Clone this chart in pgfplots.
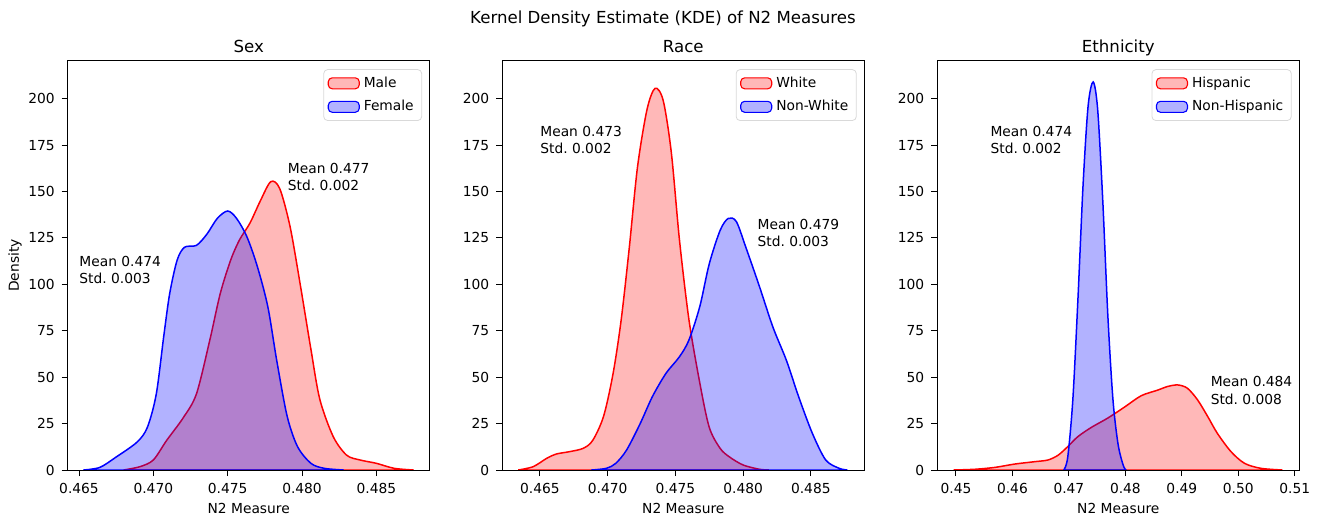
\documentclass[border=0pt]{standalone}
\usepackage{fontspec}
\setmainfont{DejaVu Sans}
\usepackage{pgfplots}
\pgfplotsset{compat=1.18}
\frenchspacing

\definecolor{kred}{RGB}{255,0,0}
\definecolor{kblue}{RGB}{0,0,255}

\newcommand{\tickfont}{\fontsize{6.9}{8.8}\selectfont}
\newcommand{\titlefont}{\fontsize{8.3}{10}\selectfont}

\pgfplotsset{
  every axis title/.style={at={(0.5,1)}, anchor=base, yshift=4.2pt, font=\titlefont},
  kdeax/.style={
    scale only axis,
    width=181pt, height=204.5pt,
    anchor=south west,
    ymin=0, ymax=220.3,
    ytick={0,25,...,200},
    axis line style={line width=0.5pt},
    tick style={black, line width=0.5pt},
    tick align=outside,
    major tick length=3pt,
    tick pos=left,
    /pgf/number format/assume math mode=true,
    tick label style={font=\tickfont},
    xlabel={N2 Measure},
    xlabel style={font=\tickfont, at={(axis description cs:0.5,0)}, anchor=base, yshift=-21.5pt},
    legend style={font=\tickfont, at={(0.979,0.980)}, anchor=north east,
      draw=black!15, rounded corners=2pt, fill=white, fill opacity=0.8,
      text opacity=1, inner xsep=2pt, inner ysep=1.5pt, row sep=1pt},
    legend cell align=left,
    legend image code/.code={\draw[#1, line width=0.55pt] (0pt,-2.75pt) rectangle (15.5pt,2.75pt);},
    axis on top,
  },
  redkde/.style={kred, line width=0.75pt, fill=kred, fill opacity=0.28, smooth},
  bluekde/.style={kblue, line width=0.75pt, fill=kblue, fill opacity=0.3, smooth},
}

\begin{document}
\begin{tikzpicture}
\path[use as bounding box] (0pt,-24pt) rectangle (662.5pt,235pt);

\node[font=\titlefont, anchor=base] at (331.5pt,223.3pt) {Kernel Density Estimate (KDE) of N2 Measures};

% Sex
\begin{axis}[kdeax, at={(33.85pt,0pt)},
  title={Sex},
  ylabel={Density},
  ylabel style={font=\tickfont, at={(axis description cs:0,0.5)}, anchor=center, rotate=0, yshift=26.3pt},
  xmin=0.46424, xmax=0.48859,
  xtick={0.465,0.470,0.475,0.480,0.485},
  xticklabel style={/pgf/number format/.cd, fixed, fixed zerofill, precision=3},
]
\addplot[redkde] coordinates {
  (0.4680,0) (0.4691,1.8) (0.4700,5.4) (0.4709,16) (0.4720,28) (0.4729,41)
  (0.4738,70) (0.4745,95) (0.4752,113) (0.4758,124) (0.4765,133) (0.4772,145)
  (0.4779,155.3) (0.4785,151.6) (0.4792,131) (0.4799,99) (0.4806,65) (0.4812,38)
  (0.4821,18) (0.4830,8) (0.4839,5.4) (0.4850,3.6) (0.4862,0.9) (0.4875,0)
} \closedcycle;
\addlegendentry{Male}
\addplot[bluekde] coordinates {
  (0.4653,0) (0.4664,1.4) (0.4675,7) (0.4689,15) (0.4696,23) (0.4702,41)
  (0.4707,72) (0.4711,95) (0.4716,113) (0.4721,120) (0.4729,121) (0.4736,127)
  (0.4743,135.5) (0.4750,139.5) (0.4756,135.5) (0.4763,125.5) (0.4770,109.5)
  (0.4777,88) (0.4783,59) (0.4790,29) (0.4797,12.6) (0.4806,3.6) (0.4815,0.9)
  (0.4828,0)
} \closedcycle;
\addlegendentry{Female}
\node[anchor=south west, align=left, inner sep=0pt, font=\tickfont] at (axis cs:0.47903,150) {Mean 0.477\\Std. 0.002};
\node[anchor=south west, align=left, inner sep=0pt, font=\tickfont] at (axis cs:0.465,100) {Mean 0.474\\Std. 0.003};
\end{axis}

% Race
\begin{axis}[kdeax, at={(251.15pt,0pt)},
  title={Race},
  xmin=0.46222, xmax=0.48895,
  xtick={0.465,0.470,0.475,0.480,0.485},
  xticklabel style={/pgf/number format/.cd, fixed, fixed zerofill, precision=3},
]
\addplot[redkde] coordinates {
  (0.4634,0) (0.4645,1.8) (0.4655,6.3) (0.4662,8.6) (0.4672,9.9) (0.4682,11.7)
  (0.4689,16) (0.4697,29) (0.4704,52) (0.4710,81) (0.4716,120) (0.4722,163)
  (0.4729,194) (0.4735,205.6) (0.4741,199) (0.4747,171) (0.4753,124) (0.4760,81)
  (0.4768,47) (0.4775,23) (0.4783,11.7) (0.4790,7) (0.4800,2.7) (0.4812,0.4)
  (0.4819,0)
} \closedcycle;
\addlegendentry{White}
\addplot[bluekde] coordinates {
  (0.4688,0) (0.4699,0.9) (0.4706,3.6) (0.4714,10.8) (0.4724,25) (0.4733,39.5)
  (0.4743,52) (0.4753,61) (0.4760,70) (0.4768,88) (0.4775,111) (0.4783,129)
  (0.4789,135.5) (0.4795,133.8) (0.4802,120) (0.4812,99) (0.4822,77) (0.4832,59)
  (0.4841,39.5) (0.4851,20) (0.4861,5.4) (0.4871,0.9) (0.4877,0)
} \closedcycle;
\addlegendentry{Non-White}
\node[anchor=south west, align=left, inner sep=0pt, font=\tickfont] at (axis cs:0.465,170) {Mean 0.473\\Std. 0.002};
\node[anchor=south west, align=left, inner sep=0pt, font=\tickfont] at (axis cs:0.48105,120) {Mean 0.479\\Std. 0.003};
\end{axis}

% Ethnicity
\begin{axis}[kdeax, at={(468.65pt,0pt)},
  title={Ethnicity},
  xmin=0.4467, xmax=0.5108,
  xtick={0.45,0.46,0.47,0.48,0.49,0.50,0.51},
  xticklabel style={/pgf/number format/.cd, fixed, fixed zerofill, precision=2},
]
\addplot[redkde] coordinates {
  (0.4496,0) (0.4534,0.4) (0.4569,1.4) (0.4604,3.2) (0.4640,4.5) (0.4663,5.4)
  (0.4681,8) (0.4698,12.6) (0.4716,18) (0.4740,23) (0.4769,28) (0.4799,34)
  (0.4828,40) (0.4857,43) (0.4875,45) (0.4893,45.8) (0.4910,44) (0.4928,37.7)
  (0.4946,28.7) (0.4963,19.7) (0.4987,9.9) (0.5011,3.6) (0.5040,0.9) (0.5078,0)
} \closedcycle;
\addlegendentry{Hispanic}
\addplot[bluekde] coordinates {
  (0.4691,0) (0.4698,7) (0.4707,38) (0.4716,92) (0.4725,153) (0.4734,196)
  (0.4743,209) (0.4751,194) (0.4760,145) (0.4769,83) (0.4778,38) (0.4787,14)
  (0.4796,2.7) (0.4801,0)
} \closedcycle;
\addlegendentry{Non-Hispanic}
\node[anchor=south west, align=left, inner sep=0pt, font=\tickfont] at (axis cs:0.45606,170) {Mean 0.474\\Std. 0.002};
\node[anchor=south west, align=left, inner sep=0pt, font=\tickfont] at (axis cs:0.49505,35) {Mean 0.484\\Std. 0.008};
\end{axis}
\end{tikzpicture}
\end{document}
